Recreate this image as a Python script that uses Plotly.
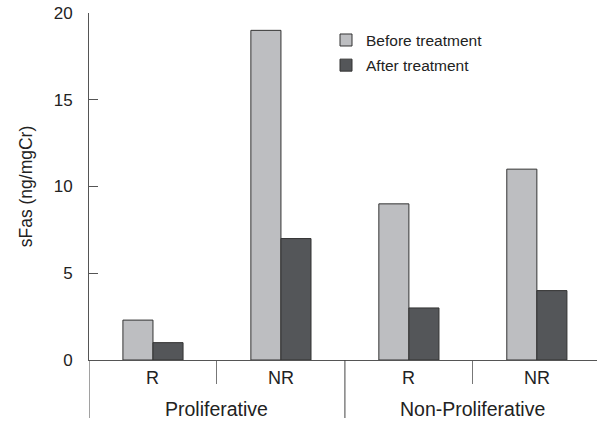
import plotly.graph_objects as go

groups = ["Proliferative", "Non-Proliferative"]
subgroups = ["R", "NR", "R", "NR"]
group_of = [0, 0, 1, 1]
before = [2.3, 19, 9, 11]
after = [1.0, 7, 3, 4]
yticks = [0, 5, 10, 15, 20]

FONT = "Liberation Sans, Arial, Helvetica, sans-serif"
xpos = list(range(len(subgroups)))

fig = go.Figure()
fig.add_trace(go.Bar(x=xpos, y=before, name="Before treatment", legendgroup="b",
                     marker=dict(color="#bdbec1", line=dict(color="#333333", width=1))))
fig.add_trace(go.Bar(x=xpos, y=after, name="After treatment", legendgroup="a",
                     marker=dict(color="#545659", line=dict(color="#333333", width=1))))

# inner / outer boundaries
inner_bounds = [i + 0.5 for i in range(len(subgroups) - 1) if group_of[i] == group_of[i + 1]]
outer_bounds = [-0.5] + [i + 0.5 for i in range(len(subgroups) - 1) if group_of[i] != group_of[i + 1]]

for b in outer_bounds:
    fig.add_shape(type="line", xref="x", yref="paper", x0=b, x1=b, y0=0, y1=-58 / 347,
                  line=dict(color="#444444", width=1))

for i, s in enumerate(subgroups):
    fig.add_annotation(x=i, y=0, xref="x", yref="paper", text=s, showarrow=False,
                       yshift=-18, yanchor="middle", font=dict(size=18, color="#222222", family=FONT))
for g, name in enumerate(groups):
    idx = [i for i in xpos if group_of[i] == g]
    cx = sum(idx) / len(idx)
    fig.add_annotation(x=cx, y=0, xref="x", yref="paper", text=name, showarrow=False,
                       yshift=-49, yanchor="middle", font=dict(size=19.5, color="#222222", family=FONT))

fig.update_layout(
    width=597, height=421,
    margin=dict(l=89, r=0, t=13, b=61, autoexpand=False),
    paper_bgcolor="white", plot_bgcolor="white",
    barmode="group", bargap=0.53, bargroupgap=0,
    font=dict(family=FONT, color="#222222"),
    showlegend=True,
    legend=dict(x=(326 - 89) / 508, y=0.97, xanchor="left", yanchor="top",
                font=dict(size=15.5, color="#222222"), tracegroupgap=2,
                bgcolor="rgba(0,0,0,0)"),
    xaxis=dict(range=[-0.5, 3.47], showline=True, linecolor="#555555", linewidth=1,
               showgrid=False, zeroline=False, showticklabels=False, automargin=False,
               tickmode="array", tickvals=inner_bounds, ticks="outside", ticklen=23,
               tickcolor="#777777", tickwidth=1),
    yaxis=dict(range=[0, 20], showline=True, linecolor="#555555", linewidth=1,
               showgrid=False, zeroline=False, tickmode="array", tickvals=yticks,
               automargin=False, ticklabeloverflow="allow",
               ticks="inside", ticklen=9, tickcolor="#555555", ticklabelstandoff=12,
               tickfont=dict(size=17, color="#222222"),
               title=dict(text="sFas (ng/mgCr)", font=dict(size=17.5, color="#222222"), standoff=16)),
)

fig.write_html("out.html", config={"displayModeBar": False},
               post_script="document.body.style.margin='0px';")
